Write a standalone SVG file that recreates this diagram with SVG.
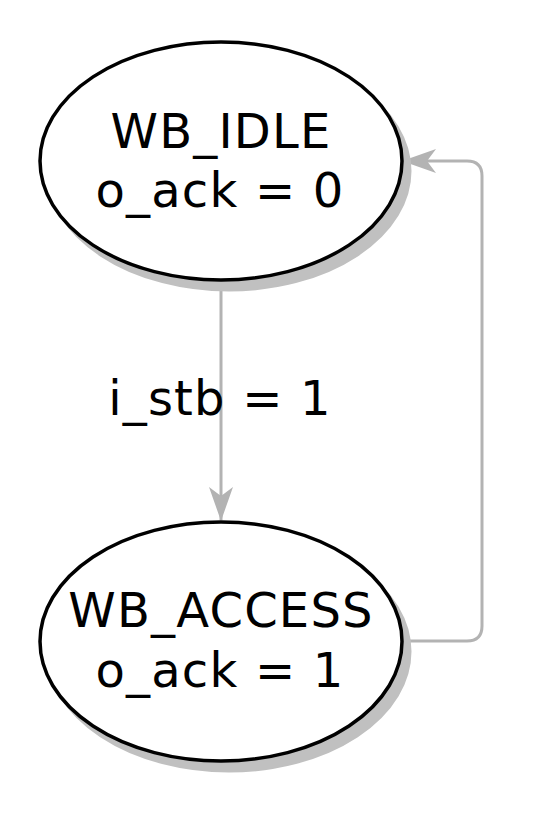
<svg xmlns="http://www.w3.org/2000/svg" width="552" height="816" viewBox="0 0 552 816">
<style>
.shadow{fill:#c0c0c0;stroke:#c0c0c0;stroke-width:3}
.node{fill:#ffffff;stroke:#000000;stroke-width:3.5}
.lbl{font-family:"DejaVu Sans",Verdana,sans-serif;font-size:48px;letter-spacing:1.2px;fill:#000000;text-anchor:middle}
.edge{fill:none;stroke:#b3b3b3;stroke-width:3}
</style>
<defs>
<marker id="arr" viewBox="0 0 34 24" refX="33" refY="12" markerWidth="34" markerHeight="24" markerUnits="userSpaceOnUse" orient="auto">
<path d="M0,0 L34,12 L0,24 L9,12 Z" fill="#b3b3b3"/>
</marker>
</defs>
<rect width="552" height="816" fill="#ffffff"/>
<g id="edges">
<path class="edge" d="M221,281 L221,520" marker-end="url(#arr)"/>
<path class="edge" d="M402,641 L467,641 Q482,641 482,626 L482,176 Q482,161 467,161 L403,161" marker-end="url(#arr)"/>
<text class="lbl" x="220" y="415">i_stb = 1</text>
</g>
<g id="WB_IDLE">
<ellipse class="shadow" cx="229" cy="171" rx="181" ry="119"/>
<ellipse class="node" cx="221" cy="161" rx="181" ry="119"/>
<text class="lbl" x="221" y="148">WB_IDLE</text>
<text class="lbl" x="220" y="207">o_ack = 0</text>
</g>
<g id="WB_ACCESS">
<ellipse class="shadow" cx="229" cy="651.5" rx="181" ry="119.5"/>
<ellipse class="node" cx="221" cy="641.5" rx="181" ry="119.5"/>
<text class="lbl" x="221" y="627">WB_ACCESS</text>
<text class="lbl" x="220" y="687">o_ack = 1</text>
</g>
</svg>
